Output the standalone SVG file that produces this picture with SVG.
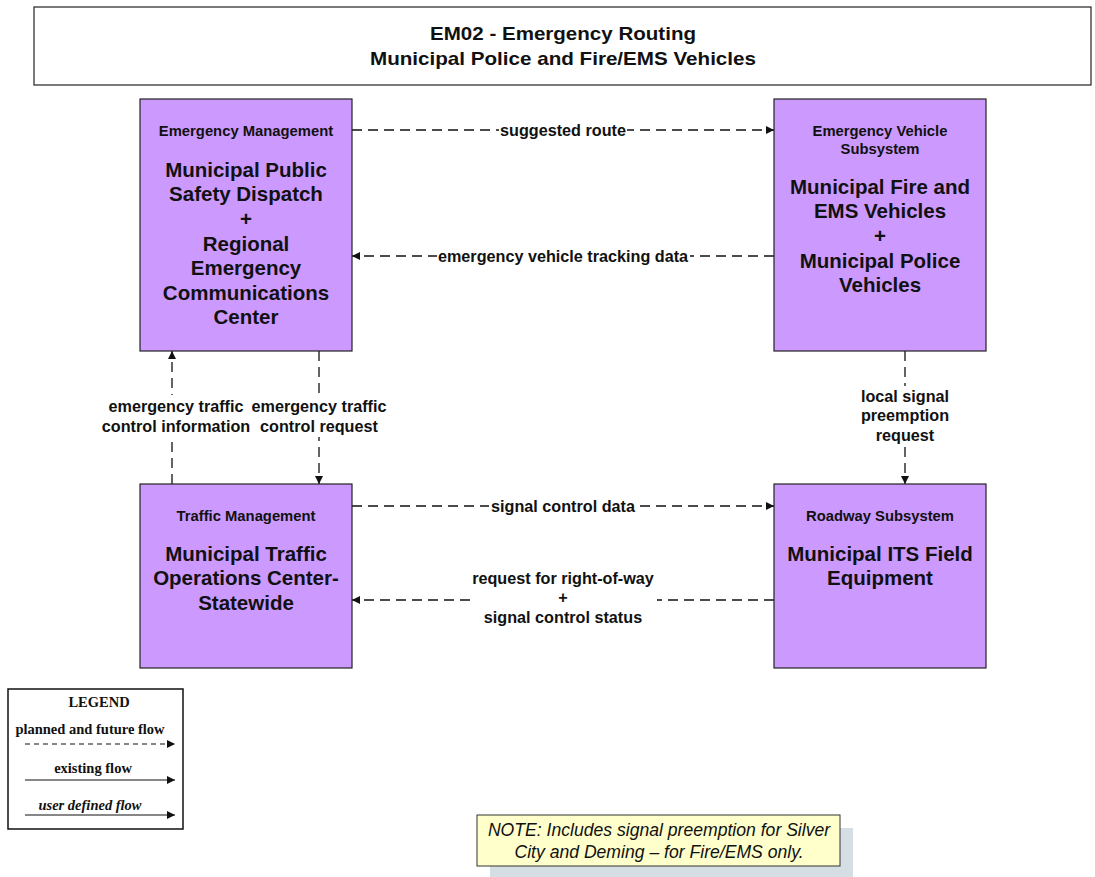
<svg xmlns="http://www.w3.org/2000/svg" width="1095" height="877" viewBox="0 0 1095 877">
<style>
.box{fill:#CC99FF;stroke:#222;stroke-width:1.2}
.cat{font-family:"Liberation Sans",Arial,sans-serif;font-weight:bold;font-size:14.8px;fill:#111;text-anchor:middle}
.main{font-family:"Liberation Sans",Arial,sans-serif;font-weight:bold;font-size:20.5px;fill:#111;text-anchor:middle}
.lbl{font-family:"Liberation Sans",Arial,sans-serif;font-weight:bold;font-size:16.2px;fill:#111;text-anchor:middle}
.flow{stroke:#111;stroke-width:1.3;fill:none;stroke-dasharray:10,6}
.bg{fill:#fff}
.leg{font-family:"Liberation Serif","Times New Roman",serif;font-weight:bold;font-size:14.5px;fill:#111;text-anchor:middle}
</style>
<defs>
<marker id="ah" viewBox="0 0 10 10" refX="10" refY="5" markerWidth="9" markerHeight="8" markerUnits="userSpaceOnUse" orient="auto">
<path d="M0,0 L10,5 L0,10 z" fill="#111"/>
</marker>
</defs>
<rect width="1095" height="877" fill="#fff"/>

<g id="title">
<rect x="34" y="7" width="1057" height="78" fill="#fff" stroke="#222" stroke-width="1.2"/>
<text x="563" y="40" font-family="Liberation Sans, Arial, sans-serif" font-weight="bold" font-size="19" text-anchor="middle" fill="#111" textLength="266" lengthAdjust="spacingAndGlyphs">EM02 - Emergency Routing</text>
<text x="563" y="65" font-family="Liberation Sans, Arial, sans-serif" font-weight="bold" font-size="19" text-anchor="middle" fill="#111" textLength="386" lengthAdjust="spacingAndGlyphs">Municipal Police and Fire/EMS Vehicles</text>
</g>

<g id="connectors">
<g id="c-suggested-route">
<line class="flow" x1="352" y1="130" x2="774" y2="130" marker-end="url(#ah)"/>
<rect class="bg" x="499" y="121" width="128" height="18"/>
<text class="lbl" x="563" y="136">suggested route</text>
</g>
<g id="c-tracking">
<line class="flow" x1="774" y1="256" x2="352" y2="256" marker-end="url(#ah)"/>
<rect class="bg" x="437" y="247" width="253" height="18"/>
<text class="lbl" x="563" y="262">emergency vehicle tracking data</text>
</g>
<g id="c-etc-info">
<line class="flow" x1="172" y1="484" x2="172" y2="351" marker-end="url(#ah)"/>
<rect class="bg" x="102" y="395" width="148" height="42"/>
<text class="lbl" x="176" y="412">emergency traffic</text>
<text class="lbl" x="176" y="432">control information</text>
</g>
<g id="c-etc-request">
<line class="flow" x1="319" y1="351" x2="319" y2="484" marker-end="url(#ah)"/>
<rect class="bg" x="250" y="395" width="139" height="42"/>
<text class="lbl" x="319" y="412">emergency traffic</text>
<text class="lbl" x="319" y="432">control request</text>
</g>
<g id="c-preemption">
<line class="flow" x1="905" y1="351" x2="905" y2="484" marker-end="url(#ah)"/>
<rect class="bg" x="856" y="386" width="98" height="59"/>
<text class="lbl" x="905" y="402">local signal</text>
<text class="lbl" x="905" y="421">preemption</text>
<text class="lbl" x="905" y="441">request</text>
</g>
<g id="c-signal-control-data">
<line class="flow" x1="352" y1="506" x2="774" y2="506" marker-end="url(#ah)"/>
<rect class="bg" x="489" y="497" width="146" height="18"/>
<text class="lbl" x="563" y="512">signal control data</text>
</g>
<g id="c-row-status">
<line class="flow" x1="774" y1="600" x2="352" y2="600" marker-end="url(#ah)"/>
<rect class="bg" x="470" y="567" width="187" height="60"/>
<text class="lbl" x="563" y="584">request for right-of-way</text>
<text class="lbl" x="563" y="603">+</text>
<text class="lbl" x="563" y="623">signal control status</text>
</g>
</g>

<g id="node-em">
<rect class="box" x="140" y="99" width="212" height="252"/>
<text class="cat" x="246" y="136">Emergency Management</text>
<text class="main" x="246" y="177">Municipal Public</text>
<text class="main" x="246" y="201">Safety Dispatch</text>
<text class="main" x="246" y="226">+</text>
<text class="main" x="246" y="251">Regional</text>
<text class="main" x="246" y="275">Emergency</text>
<text class="main" x="246" y="300">Communications</text>
<text class="main" x="246" y="324">Center</text>
</g>

<g id="node-evs">
<rect class="box" x="774" y="99" width="212" height="252"/>
<text class="cat" x="880" y="136">Emergency Vehicle</text>
<text class="cat" x="880" y="154">Subsystem</text>
<text class="main" x="880" y="194">Municipal Fire and</text>
<text class="main" x="880" y="218">EMS Vehicles</text>
<text class="main" x="880" y="243">+</text>
<text class="main" x="880" y="268">Municipal Police</text>
<text class="main" x="880" y="292">Vehicles</text>
</g>

<g id="node-tm">
<rect class="box" x="140" y="484" width="212" height="184"/>
<text class="cat" x="246" y="521">Traffic Management</text>
<text class="main" x="246" y="561">Municipal Traffic</text>
<text class="main" x="246" y="585">Operations Center-</text>
<text class="main" x="246" y="610">Statewide</text>
</g>

<g id="node-rs">
<rect class="box" x="774" y="484" width="212" height="184"/>
<text class="cat" x="880" y="521">Roadway Subsystem</text>
<text class="main" x="880" y="561">Municipal ITS Field</text>
<text class="main" x="880" y="585">Equipment</text>
</g>

<g id="legend">
<rect x="8" y="689" width="175" height="140" fill="#fff" stroke="#111" stroke-width="1.5"/>
<text class="leg" x="99" y="707">LEGEND</text>
<text class="leg" x="90" y="734">planned and future flow</text>
<line x1="25" y1="744" x2="175" y2="744" stroke="#111" stroke-width="1.2" stroke-dasharray="5,4" marker-end="url(#ah)"/>
<text class="leg" x="93" y="773">existing flow</text>
<line x1="25" y1="780" x2="175" y2="780" stroke="#111" stroke-width="1.2" marker-end="url(#ah)"/>
<text class="leg" x="90" y="810" font-style="italic">user defined flow</text>
<line x1="25" y1="815" x2="175" y2="815" stroke="#111" stroke-width="1.2" marker-end="url(#ah)"/>
</g>

<g id="note">
<rect x="490" y="828" width="363" height="49" fill="#D4DEE3"/>
<rect x="477" y="815" width="363" height="51" fill="#FFFFCC" stroke="#333" stroke-width="1"/>
<text x="659" y="836" font-family="Liberation Sans, Arial, sans-serif" font-style="italic" font-size="17.6" text-anchor="middle" fill="#111">NOTE: Includes signal preemption for Silver</text>
<text x="659" y="858" font-family="Liberation Sans, Arial, sans-serif" font-style="italic" font-size="17.6" text-anchor="middle" fill="#111">City and Deming – for Fire/EMS only.</text>
</g>
</svg>
